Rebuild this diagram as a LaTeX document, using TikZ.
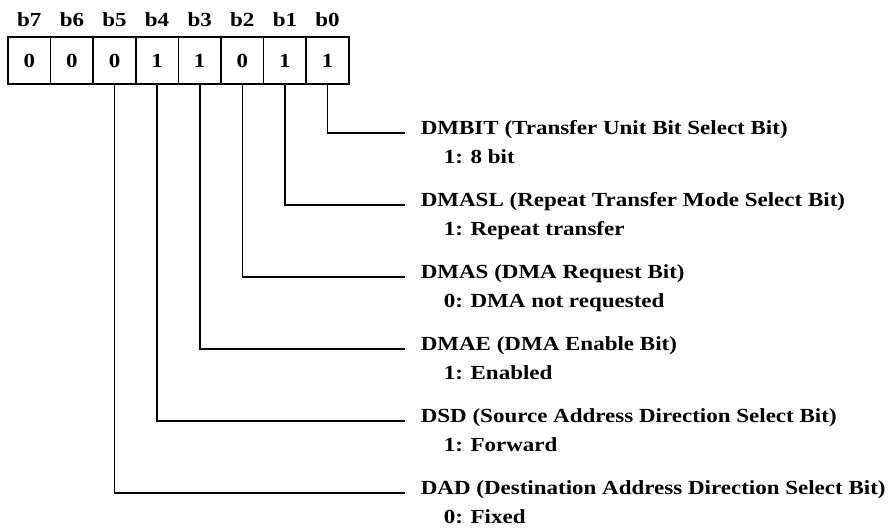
\documentclass[tikz,border=0pt]{standalone}
\usepackage{fontspec}
\setmainfont[FakeStretch=1.15]{Liberation Serif}
\usetikzlibrary{positioning,calc}

\begin{document}
\begin{tikzpicture}[
  x=1pt,y=-1pt,
  font=\bfseries\fontsize{20}{24}\selectfont,
  line width=1.6pt,
  cell/.style={draw,minimum width=42.6pt,minimum height=47pt,inner sep=0pt},
  bitlbl/.style={anchor=base,inner sep=0pt},
  fld/.style={anchor=west,inner xsep=15pt,inner ysep=0pt,text height=0.7em,text depth=0.4em},
  val/.style={anchor=base west,inner sep=0pt}
]
\useasboundingbox (0,0) rectangle (891,532);
% ---------- register cells b7..b0
\foreach \i/\v in {7/0,6/0,5/0,4/1,3/1,2/0,1/1,0/1}{
  \node[cell] (c\i) at ({29.3+(7-\i)*42.6},60.5) {\v};
  \node[bitlbl] (b\i) at ($(c\i.north)+(0,-10)$) {b\i};
}
% ---------- bit fields
\foreach \i/\y/\f/\v in {0/133/DMBIT (Transfer Unit Bit Select Bit)/1: 8 bit,
    1/205/DMASL (Repeat Transfer Mode Select Bit)/1: Repeat transfer,
    2/277/DMAS (DMA Request Bit)/0: DMA not requested,
    3/349/DMAE (DMA Enable Bit)/1: Enabled,
    4/421/DSD (Source Address Direction Select Bit)/1: Forward,
    5/493/DAD (Destination Address Direction Select Bit)/0: Fixed}{
  \node[fld] (f\i) at (405,\y) {\f};
  \node[val] (v\i) at ($(f\i.base west)+(38,29)$) {\v};
  \draw (c\i.south) |- (f\i.west);
}
\end{tikzpicture}
\end{document}
